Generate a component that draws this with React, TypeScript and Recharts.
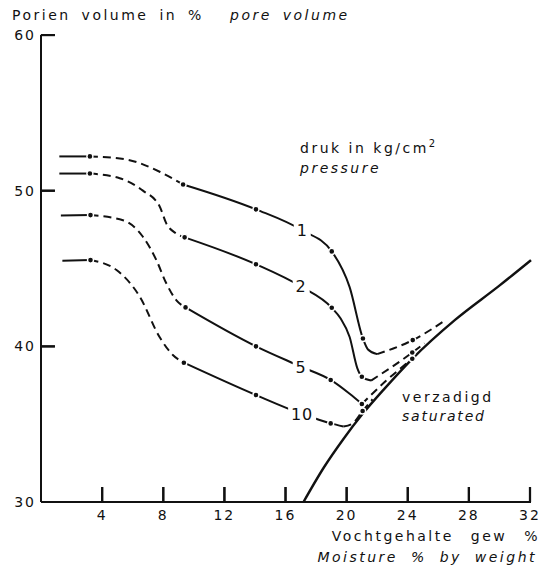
import { ComposedChart, Line, Scatter, XAxis, YAxis } from 'recharts'

const xTicks = [4, 8, 12, 16, 20, 24, 28, 32]
const yTicks = [30, 40, 50, 60]

// druk 1 kg/cm2
const c1Lead = [{ x: 1.2, y: 52.2 }, { x: 3.2, y: 52.2 }]
const c1DashA = [{ x: 3.2, y: 52.2 }, { x: 5.6, y: 52.0 }, { x: 7.8, y: 51.2 }, { x: 9.3, y: 50.4 }]
const c1Solid = [
  { x: 9.3, y: 50.4 }, { x: 14.07, y: 48.8 }, { x: 17.1, y: 47.45 }, { x: 19.03, y: 46.1 },
  { x: 20.2, y: 43.8 }, { x: 21.07, y: 40.5 }, { x: 21.4, y: 39.8 }, { x: 22.0, y: 39.5 },
]
const c1DashB = [{ x: 22.0, y: 39.5 }, { x: 24.33, y: 40.4 }, { x: 26.5, y: 41.7 }]
const c1Dots = [
  { x: 3.2, y: 52.2 }, { x: 9.3, y: 50.4 }, { x: 14.07, y: 48.8 },
  { x: 19.03, y: 46.1 }, { x: 21.07, y: 40.5 }, { x: 24.33, y: 40.4 },
]

// druk 2
const c2Lead = [{ x: 1.2, y: 51.1 }, { x: 3.2, y: 51.1 }]
const c2DashA = [
  { x: 3.2, y: 51.1 }, { x: 5.15, y: 50.8 }, { x: 6.67, y: 50.0 }, { x: 7.76, y: 49.0 },
  { x: 8.2, y: 47.9 }, { x: 8.85, y: 47.25 }, { x: 9.4, y: 47.0 },
]
const c2Solid = [
  { x: 9.4, y: 47.0 }, { x: 14.07, y: 45.27 }, { x: 17.0, y: 43.85 }, { x: 19.03, y: 42.48 },
  { x: 19.6, y: 41.8 }, { x: 20.2, y: 40.6 }, { x: 20.7, y: 38.6 }, { x: 21.0, y: 38.05 }, { x: 21.6, y: 37.8 },
]
const c2DashB = [{ x: 21.6, y: 37.8 }, { x: 24.3, y: 39.6 }, { x: 25.1, y: 40.2 }]
const c2Dots = [
  { x: 3.2, y: 51.1 }, { x: 9.4, y: 47.0 }, { x: 14.07, y: 45.27 },
  { x: 19.03, y: 42.48 }, { x: 21.0, y: 38.05 }, { x: 24.3, y: 39.6 },
]

// druk 5
const c5Lead = [{ x: 1.3, y: 48.4 }, { x: 3.24, y: 48.43 }]
const c5DashA = [
  { x: 3.24, y: 48.43 }, { x: 5.37, y: 48.1 }, { x: 6.67, y: 47.04 }, { x: 7.55, y: 45.54 },
  { x: 8.2, y: 44.05 }, { x: 8.85, y: 42.97 }, { x: 9.46, y: 42.5 },
]
const c5Solid = [
  { x: 9.46, y: 42.5 }, { x: 14.07, y: 40.0 }, { x: 17.0, y: 38.7 }, { x: 18.96, y: 37.84 },
  { x: 20.2, y: 36.95 }, { x: 21.0, y: 36.3 },
]
const c5DashB = [{ x: 21.0, y: 36.3 }, { x: 22.6, y: 37.8 }, { x: 24.3, y: 39.2 }]
const c5Dots = [
  { x: 3.24, y: 48.43 }, { x: 9.46, y: 42.5 }, { x: 14.07, y: 40.0 },
  { x: 18.96, y: 37.84 }, { x: 21.0, y: 36.3 }, { x: 24.3, y: 39.2 },
]

// druk 10
const c10Lead = [{ x: 1.4, y: 45.5 }, { x: 3.24, y: 45.54 }]
const c10DashA = [
  { x: 3.24, y: 45.54 }, { x: 4.94, y: 44.9 }, { x: 6.46, y: 43.2 }, { x: 7.76, y: 40.6 },
  { x: 8.63, y: 39.44 }, { x: 9.35, y: 38.95 },
]
const c10Solid = [
  { x: 9.35, y: 38.95 }, { x: 14.07, y: 36.87 }, { x: 17.1, y: 35.65 }, { x: 18.96, y: 35.05 }, { x: 19.8, y: 34.85 },
]
const c10DashB = [{ x: 19.8, y: 34.85 }, { x: 20.4, y: 35.05 }, { x: 21.05, y: 35.85 }, { x: 21.7, y: 36.6 }]
const c10Dots = [
  { x: 3.24, y: 45.54 }, { x: 9.35, y: 38.95 }, { x: 14.07, y: 36.87 },
  { x: 18.96, y: 35.05 }, { x: 21.05, y: 35.85 },
]

// verzadigd / saturated
const saturated = [
  { x: 17.18, y: 30 }, { x: 18.5, y: 32.2 }, { x: 19.83, y: 34.1 }, { x: 21.0, y: 35.6 },
  { x: 22.5, y: 37.3 }, { x: 24.3, y: 39.2 }, { x: 27.1, y: 41.7 }, { x: 30.0, y: 43.9 }, { x: 32.07, y: 45.54 },
]

const curveLabels = [
  { x: 17.1, y: 47.5, t: '1' },
  { x: 17.03, y: 43.87, t: '2' },
  { x: 17.03, y: 38.69, t: '5' },
  { x: 17.09, y: 35.65, t: '10' },
]

const INK = '#111'
const FONT = '"DejaVu Sans", sans-serif'
// inward tick marks: anchors sit half a tick (about 7 px) inside the axes
const X_TICK_HALF = 0.48
const Y_TICK_HALF = 0.45

const solidSegs = [c1Lead, c1Solid, c2Lead, c2Solid, c5Lead, c5Solid, c10Lead, c10Solid]
const dashSegs = [c1DashA, c1DashB, c2DashA, c2DashB, c5DashA, c5DashB, c10DashA, c10DashB]
const allDots = [...c1Dots, ...c2Dots, ...c5Dots, ...c10Dots]
const xTickMarks = xTicks.map((t) => ({ x: t, y: 30 + X_TICK_HALF }))
const yTickMarks = yTicks.filter((t) => t !== 30).map((t) => ({ x: Y_TICK_HALF, y: t }))

const XTick = (props: any) => {
  const { x, y, payload } = props
  return (
    <g>
      <path d={`M${x},${y}V${y - 15}`} stroke={INK} strokeWidth={2} fill="none" />
      <text x={x} y={y + 18} textAnchor="middle" fontSize={14} fontFamily={FONT} letterSpacing={2} fill={INK}>
        {payload.value}
      </text>
    </g>
  )
}

const YTick = (props: any) => {
  const { x, y, payload } = props
  return (
    <g>
      {payload.value !== 30 && <path d={`M${x},${y}H${x + 14}`} stroke={INK} strokeWidth={2} fill="none" />}
      <text x={x - 5} y={y + 5} textAnchor="end" fontSize={14} fontFamily={FONT} letterSpacing={2} fill={INK}>
        {payload.value}
      </text>
    </g>
  )
}

const VTickShape = (props: any) => (
  <rect x={props.cx - 1} y={props.cy - 7.5} width={2.2} height={15} fill={INK} />
)

const HTickShape = (props: any) => (
  <rect x={props.cx - 7} y={props.cy - 1} width={14} height={2.2} fill={INK} />
)

const DotShape = (props: any) => (
  <circle cx={props.cx} cy={props.cy} r={3} fill={INK} stroke="#fff" strokeWidth={1.4} />
)

const LabelShape = (props: any) => {
  const { cx, cy, payload } = props
  const w = payload.t.length * 11 + 6
  return (
    <g>
      <rect x={cx - w / 2} y={cy - 9} width={w} height={18} fill="#fff" />
      <text x={cx} y={cy + 6} textAnchor="middle" fontSize={16} fontFamily={FONT} letterSpacing={1} fill={INK}>
        {payload.t}
      </text>
    </g>
  )
}

const txt = { fontFamily: FONT, fontSize: 14, fill: INK, letterSpacing: 2.5 }

export default function App() {
  return (
    <div style={{ width: 549, height: 565, position: 'relative', background: '#fff' }}>
      <style>{'body{margin:0}'}</style>
      <ComposedChart width={549} height={565} margin={{ top: 35, right: 18, bottom: 0, left: 0 }}>
        <XAxis
          type="number"
          dataKey="x"
          domain={[0, 32]}
          ticks={xTicks}
          interval={0}
          height={63}
          tickSize={0}
          tickMargin={0}
          tickLine={false}
          axisLine={{ stroke: INK, strokeWidth: 2 }}
          tick={<XTick />}
        />
        <YAxis
          type="number"
          dataKey="y"
          domain={[30, 60]}
          ticks={yTicks}
          interval={0}
          width={41}
          tickSize={0}
          tickMargin={0}
          tickLine={false}
          axisLine={{ stroke: INK, strokeWidth: 2 }}
          tick={<YTick />}
        />
        <Line
          data={saturated}
          dataKey="y"
          type="monotone"
          stroke={INK}
          strokeWidth={2.4}
          dot={false}
          activeDot={false}
          isAnimationActive={false}
        />
        {solidSegs.map((d, i) => (
          <Line
            key={'s' + i}
            data={d}
            dataKey="y"
            type="monotone"
            stroke={INK}
            strokeWidth={2}
            dot={false}
            activeDot={false}
            isAnimationActive={false}
          />
        ))}
        {dashSegs.map((d, i) => (
          <Line
            key={'d' + i}
            data={d}
            dataKey="y"
            type="monotone"
            stroke={INK}
            strokeWidth={2}
            strokeDasharray="8 5"
            dot={false}
            activeDot={false}
            isAnimationActive={false}
          />
        ))}
        <Scatter data={xTickMarks} dataKey="y" shape={<VTickShape />} isAnimationActive={false} />
        <Scatter data={yTickMarks} dataKey="y" shape={<HTickShape />} isAnimationActive={false} />
        <Scatter data={allDots} dataKey="y" shape={<DotShape />} isAnimationActive={false} />
        <Scatter data={curveLabels} dataKey="y" shape={<LabelShape />} isAnimationActive={false} />
      </ComposedChart>
      <svg width={549} height={565} style={{ position: 'absolute', left: 0, top: 0, pointerEvents: 'none' }}>
        <text x={12} y={20} {...txt} wordSpacing={4}>Porien volume in %</text>
        <text x={230} y={20} {...txt} fontStyle="italic" wordSpacing={4}>pore volume</text>
        <text x={300} y={153} {...txt}>
          druk in kg/cm<tspan dy={-6} fontSize={10}>2</tspan>
        </text>
        <text x={300} y={173} {...txt} fontStyle="italic">pressure</text>
        <text x={402} y={402} {...txt}>verzadigd</text>
        <text x={402} y={421} {...txt} letterSpacing={1.8} fontStyle="italic">saturated</text>
        <text x={540} y={541} {...txt} textAnchor="end" wordSpacing={10}>Vochtgehalte gew %</text>
        <text x={537} y={562} {...txt} textAnchor="end" fontStyle="italic" wordSpacing={6}>Moisture % by weight</text>
      </svg>
    </div>
  )
}
